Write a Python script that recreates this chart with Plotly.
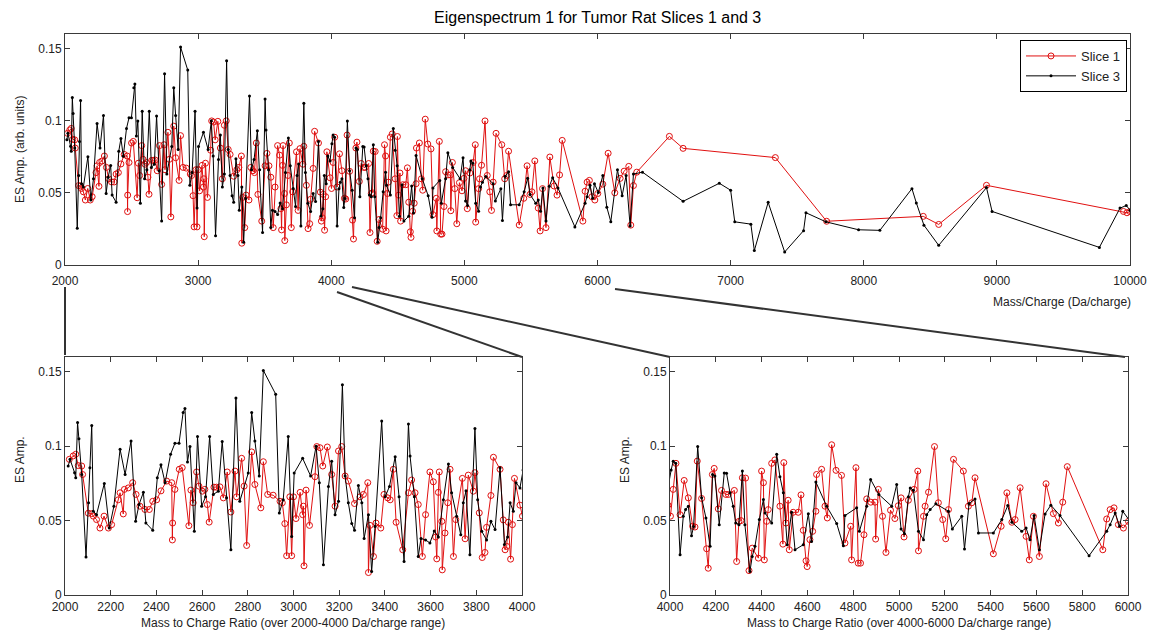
import plotly.graph_objects as go

# ---------------- data ----------------
s1_x = [2019, 2036, 2047, 2058, 2073, 2077, 2102, 2117, 2124, 2138, 2153, 2171, 2190, 2204, 2233, 2241, 2255, 2260,
        2277, 2296, 2311, 2328, 2350, 2369, 2384, 2401, 2420, 2445, 2467, 2470, 2471, 2481, 2500, 2513, 2542, 2551,
        2561, 2576, 2586, 2601, 2612, 2623, 2631, 2652, 2663, 2678, 2693, 2710, 2726, 2744, 2751, 2773, 2784, 2795,
        2817, 2831, 2857, 2868, 2887, 2911, 2941, 2951, 2962, 2970, 2984, 2992, 3000, 3011, 3029, 3040, 3043, 3046,
        3055, 3070, 3094, 3102, 3116, 3128, 3148, 3167, 3182, 3197, 3211, 3226, 3240, 3267, 3291, 3306, 3325, 3328,
        3335, 3350, 3361, 3382, 3396, 3412, 3423, 3437, 3449, 3478, 3503, 3517, 3532, 3546, 3564, 3578, 3597, 3612,
        3622, 3627, 3634, 3638, 3649, 3651, 3663, 3675, 3685, 3700, 3710, 3739, 3751, 3765, 3787, 3794, 3813, 3826,
        3838, 3845, 3864, 3875, 3904, 3918, 3926, 3933, 3940, 3950, 3958, 3967, 3991, 4002, 4014, 4026, 4044, 4062,
        4080, 4099, 4109, 4119, 4138, 4160, 4167, 4185, 4193, 4211, 4225, 4244, 4255, 4281, 4291, 4301, 4310, 4316,
        4330, 4345, 4359, 4386, 4400, 4408, 4412, 4422, 4429, 4444, 4458, 4480, 4493, 4497, 4506, 4516, 4521, 4538,
        4560, 4572, 4582, 4594, 4599, 4611, 4623, 4637, 4640, 4662, 4677, 4687, 4706, 4725, 4749, 4764, 4789, 4793,
        4812, 4822, 4832, 4847, 4859, 4877, 4895, 4898, 4910, 4928, 4943, 4963, 4982, 4997, 5009, 5022, 5041, 5066,
        5082, 5085, 5107, 5114, 5129, 5155, 5172, 5191, 5204, 5216, 5238, 5281, 5303, 5318, 5332, 5412, 5446, 5471,
        5493, 5507, 5529, 5555, 5569, 5587, 5613, 5642, 5674, 5696, 5715, 5735, 5890, 5907, 5922, 5939, 5958, 5980,
        6002, 6040, 6080, 6130, 6170, 6200, 6235, 6250, 6270, 6295, 6540, 6643, 7336, 7721, 8447, 8563, 8922, 9951,
        9977, 10000]
s1_y = [0.0912, 0.0935, 0.0946, 0.087, 0.0867, 0.081, 0.055, 0.0547, 0.053, 0.0507, 0.045, 0.053, 0.045, 0.0473,
        0.064, 0.0687, 0.0545, 0.071, 0.072, 0.0755, 0.0676, 0.0597, 0.0575, 0.0575, 0.063, 0.064, 0.070, 0.0766,
        0.0755, 0.037, 0.0484, 0.071, 0.0845, 0.0856, 0.0466, 0.0705, 0.062, 0.0827, 0.0732, 0.0698, 0.071, 0.0608,
        0.049, 0.0725, 0.0725, 0.0727, 0.0653, 0.0827, 0.0558, 0.0833, 0.066, 0.0919, 0.0732, 0.0333, 0.0962, 0.0743,
        0.0586, 0.0896, 0.0676, 0.0671, 0.063, 0.062, 0.048, 0.0264, 0.066, 0.0264, 0.066, 0.0514, 0.069, 0.054,
        0.0597, 0.0196, 0.0705, 0.0468, 0.0795, 0.0998, 0.099, 0.0867, 0.0995, 0.081, 0.0597, 0.0968, 0.0998, 0.080,
        0.0766, 0.0615, 0.066, 0.0676, 0.0755, 0.0151, 0.0468, 0.0259, 0.0484, 0.045, 0.0676, 0.0653, 0.064, 0.0845,
        0.0489, 0.0304, 0.0687, 0.0773, 0.0687, 0.0608, 0.0259, 0.054, 0.0827, 0.0761, 0.039, 0.0243, 0.069, 0.0827,
        0.0495, 0.0169, 0.0417, 0.062, 0.0845, 0.0259, 0.0507, 0.0784, 0.0378, 0.0806, 0.0698, 0.0822, 0.0552, 0.0252,
        0.0286, 0.0455, 0.0669, 0.0926, 0.0845, 0.0505, 0.0304, 0.0327, 0.0489, 0.0241, 0.0473, 0.0784, 0.0604, 0.053,
        0.071, 0.0885, 0.054, 0.077, 0.0653, 0.0462, 0.0457, 0.090, 0.0649, 0.0311, 0.018, 0.081, 0.0851, 0.0579,
        0.0703, 0.0676, 0.0676, 0.0703, 0.0225, 0.0495, 0.050, 0.0788, 0.0786, 0.0164, 0.0315, 0.0248, 0.0833, 0.0755,
        0.0236, 0.0495, 0.0574, 0.0885, 0.0908, 0.0597, 0.0342, 0.089, 0.0484, 0.0637, 0.0304, 0.0556, 0.0556, 0.0673,
        0.0435, 0.023, 0.0191, 0.0372, 0.0428, 0.0563, 0.081, 0.0845, 0.0597, 0.0518, 0.101, 0.0838, 0.0804, 0.0349,
        0.0462, 0.0236, 0.0856, 0.0214, 0.0214, 0.0405, 0.0646, 0.0624, 0.0624, 0.0376, 0.071, 0.0529, 0.0286, 0.057,
        0.0514, 0.060, 0.0653, 0.039, 0.0637, 0.071, 0.0833, 0.0297, 0.0529, 0.0597, 0.0691, 0.0998, 0.062, 0.0507,
        0.0378, 0.0574, 0.0912, 0.0833, 0.0597, 0.062, 0.0788, 0.0277, 0.0462, 0.0687, 0.0489, 0.0507, 0.0721, 0.0394,
        0.0236, 0.0529, 0.0259, 0.0748, 0.0547, 0.0484, 0.0624, 0.0863, 0.0304, 0.0511, 0.0574, 0.0586, 0.0473, 0.045,
        0.0495, 0.056, 0.0774, 0.050, 0.060, 0.065, 0.0683, 0.0276, 0.055, 0.0643, 0.0891, 0.0808, 0.0744, 0.0303,
        0.0337, 0.0281, 0.0552, 0.0371, 0.0362, 0.037]

s3_x = [2014, 2022, 2042, 2047, 2055, 2061, 2073, 2092, 2103, 2109, 2117, 2124, 2138, 2172, 2194, 2214, 2241, 2263,
        2289, 2309, 2324, 2343, 2354, 2384, 2404, 2420, 2438, 2462, 2481, 2499, 2517, 2525, 2536, 2547, 2566, 2580,
        2598, 2615, 2633, 2649, 2671, 2688, 2707, 2726, 2748, 2765, 2802, 2817, 2831, 2850, 2868, 2922, 2938, 2955,
        2977, 2992, 3003, 3040, 3075, 3099, 3113, 3131, 3153, 3167, 3182, 3197, 3214, 3226, 3240, 3255, 3267, 3284,
        3299, 3309, 3328, 3342, 3357, 3386, 3401, 3420, 3445, 3462, 3484, 3503, 3510, 3529, 3546, 3558, 3578, 3597,
        3616, 3634, 3656, 3678, 3692, 3714, 3732, 3743, 3755, 3772, 3794, 3806, 3824, 3845, 3864, 3882, 3904, 3923,
        3937, 3948, 3962, 3974, 3991, 4005, 4014, 4025, 4044, 4058, 4068, 4080, 4094, 4103, 4121, 4138, 4157, 4175,
        4186, 4196, 4215, 4237, 4247, 4262, 4276, 4287, 4301, 4316, 4327, 4349, 4359, 4371, 4390, 4408, 4415, 4444,
        4466, 4480, 4495, 4512, 4531, 4546, 4582, 4604, 4618, 4637, 4684, 4728, 4757, 4764, 4815, 4827, 4859, 4876,
        4912, 4968, 4990, 5009, 5024, 5041, 5049, 5063, 5085, 5107, 5121, 5136, 5161, 5216, 5233, 5274, 5286, 5306,
        5332, 5347, 5412, 5449, 5475, 5493, 5536, 5555, 5572, 5590, 5613, 5638, 5663, 5703, 5830, 5907, 5922, 5944,
        5963, 5977, 6006, 6040, 6070, 6100, 6150, 6185, 6215, 6245, 6270, 6338, 6643, 6915, 7000, 7031, 7152, 7178,
        7282, 7406, 7548, 7566, 7716, 7961, 8121, 8362, 8395, 8452, 8563, 8922, 8964, 9770, 9925, 9972, 10000]
s3_y = [0.0867, 0.0912, 0.0822, 0.0788, 0.116, 0.105, 0.081, 0.0255, 0.062, 0.0856, 0.114, 0.0563, 0.054, 0.075,
        0.045, 0.0597, 0.098, 0.081, 0.1036, 0.0495, 0.0608, 0.069, 0.0484, 0.0435, 0.0788, 0.0876, 0.0754, 0.0946,
        0.102, 0.102, 0.1227, 0.1254, 0.0894, 0.0998, 0.0428, 0.1065, 0.0597, 0.066, 0.1065, 0.0676, 0.0698, 0.1032,
        0.0653, 0.0304, 0.1324, 0.063, 0.082, 0.1227, 0.1036, 0.080, 0.151, 0.135, 0.0552, 0.064, 0.1065, 0.0394,
        0.082, 0.0919, 0.080, 0.100, 0.0755, 0.0203, 0.073, 0.090, 0.054, 0.063, 0.1414, 0.080, 0.062, 0.048, 0.0435,
        0.0736, 0.062, 0.038, 0.054, 0.0158, 0.046, 0.117, 0.066, 0.073, 0.093, 0.066, 0.0225, 0.115, 0.0935, 0.066,
        0.0259, 0.038, 0.037, 0.035, 0.043, 0.039, 0.064, 0.088, 0.0687, 0.053, 0.0405, 0.062, 0.070, 0.027, 0.112,
        0.064, 0.0428, 0.037, 0.0495, 0.044, 0.0856, 0.034, 0.039, 0.062, 0.0563, 0.0755, 0.072, 0.084, 0.090, 0.0885,
        0.027, 0.0529, 0.0574, 0.0597, 0.0399, 0.046, 0.0998, 0.0653, 0.0518, 0.0327, 0.081, 0.080, 0.0473, 0.082,
        0.0818, 0.0687, 0.0597, 0.0484, 0.0473, 0.0833, 0.0473, 0.0158, 0.0259, 0.0327, 0.0507, 0.0642, 0.0552, 0.0484,
        0.0946, 0.0795, 0.0687, 0.0338, 0.0556, 0.0304, 0.0338, 0.0547, 0.036, 0.0759, 0.0597, 0.048, 0.0331, 0.0534,
        0.0586, 0.0428, 0.0597, 0.0777, 0.0676, 0.0597, 0.0743, 0.0444, 0.0412, 0.066, 0.072, 0.0705, 0.0428, 0.0372,
        0.054, 0.0574, 0.0613, 0.0563, 0.0444, 0.0529, 0.0309, 0.0615, 0.0646, 0.0417, 0.0417, 0.0507, 0.0601, 0.0489,
        0.0428, 0.045, 0.0372, 0.0534, 0.0304, 0.0545, 0.0604, 0.0534, 0.0264, 0.0428, 0.0473, 0.0552, 0.0462, 0.0563,
        0.0502, 0.062, 0.040, 0.030, 0.066, 0.048, 0.062, 0.027, 0.063, 0.0643, 0.0441, 0.0566, 0.0518, 0.0299, 0.0283,
        0.010, 0.0434, 0.009, 0.0238, 0.0362, 0.0299, 0.0244, 0.024, 0.0529, 0.043, 0.0276, 0.0136, 0.0536, 0.0371,
        0.0122, 0.0394, 0.0412, 0.038]

top_ticks = [2000, 3000, 4000, 5000, 6000, 7000, 8000, 9000, 10000]
left_ticks = [2000, 2200, 2400, 2600, 2800, 3000, 3200, 3400, 3600, 3800, 4000]
right_ticks = [4000, 4200, 4400, 4600, 4800, 5000, 5200, 5400, 5600, 5800, 6000]
y_ticks = [0, 0.05, 0.1, 0.15]
y_labels = ["0", "0.05", "0.1", "0.15"]

TITLE = "Eigenspectrum 1 for Tumor Rat Slices 1 and 3"
# -----------------------------------------------------------------

W, H = 1156, 636
FONT = "Liberation Sans, Arial, sans-serif"
RED = "#e01010"
AX = "#3a3a3a"


def px(x):
    return x / W


def py(y):
    return 1 - y / H


fig = go.Figure()

axes = [("x", "y"), ("x2", "y2"), ("x3", "y3")]
for i, (xa, ya) in enumerate(axes):
    fig.add_trace(go.Scatter(
        x=s1_x, y=s1_y, xaxis=xa, yaxis=ya, mode="lines+markers", name="Slice 1",
        line=dict(color=RED, width=1),
        marker=dict(symbol="circle-open", size=6, color=RED, line=dict(width=1, color=RED)),
        showlegend=(i == 0)))
    fig.add_trace(go.Scatter(
        x=s3_x, y=s3_y, xaxis=xa, yaxis=ya, mode="lines+markers", name="Slice 3",
        line=dict(color="black", width=1),
        marker=dict(symbol="circle", size=3, color="black"),
        showlegend=(i == 0)))

common_ax = dict(showline=True, linecolor=AX, linewidth=1, mirror="allticks", ticks="inside",
                 ticklen=5, tickcolor=AX, showgrid=False, zeroline=False, automargin=False,
                 tickfont=dict(family=FONT, size=12, color="#222"))

fig.update_layout(
    template="none",
    width=W, height=H, margin=dict(l=0, r=0, t=0, b=0, pad=0, autoexpand=False),
    paper_bgcolor="white", plot_bgcolor="white",
    font=dict(family=FONT, size=12, color="#222"),
    xaxis=dict(domain=[px(65), px(1130)], range=[2000, 10000], tickvals=top_ticks, tickformat="d",
               ticklabelstandoff=5, anchor="y", **common_ax),
    yaxis=dict(domain=[py(265), py(34)], range=[0, 0.16], tickvals=y_ticks, ticktext=y_labels,
               anchor="x", **common_ax),
    xaxis2=dict(domain=[px(65), px(522)], range=[2000, 4000], tickvals=left_ticks, tickformat="d",
                ticklabelstandoff=1, anchor="y2", **common_ax),
    yaxis2=dict(domain=[py(595), py(357)], range=[0, 0.16], tickvals=y_ticks, ticktext=y_labels,
                anchor="x2", **common_ax),
    xaxis3=dict(domain=[px(670), px(1128)], range=[4000, 6000], tickvals=right_ticks, tickformat="d",
                ticklabelstandoff=1, anchor="y3", **common_ax),
    yaxis3=dict(domain=[py(595), py(357)], range=[0, 0.16], tickvals=y_ticks, ticktext=y_labels,
                anchor="x3", **common_ax),
    legend=dict(x=px(1127), y=py(40), xanchor="right", yanchor="top",
                bordercolor="black", borderwidth=1, bgcolor="white", itemwidth=50,
                font=dict(family=FONT, size=13, color="#222"), tracegroupgap=0),
    showlegend=True,
)

ann = [
    dict(text=TITLE, x=px(597), y=py(18), font=dict(size=16, color="black")),
    dict(text="ES Amp. (arb. units)", x=px(20), y=py(150), textangle=-90, font=dict(size=12)),
    dict(text="Mass/Charge (Da/charge)", x=px(1133), y=py(302), xanchor="right", font=dict(size=12)),
    dict(text="ES Amp.", x=px(20), y=py(460), textangle=-90, font=dict(size=12)),
    dict(text="ES Amp.", x=px(625), y=py(460), textangle=-90, font=dict(size=12)),
    dict(text="Mass to Charge Ratio (over 2000-4000 Da/charge range)", x=px(293), y=py(623), font=dict(size=12)),
    dict(text="Mass to Charge Ratio (over 4000-6000 Da/charge range)", x=px(899), y=py(623), font=dict(size=12)),
]
for a in ann:
    a.setdefault("xanchor", "center")
    fig.add_annotation(xref="paper", yref="paper", showarrow=False, yanchor="middle",
                       font_family=FONT, **a)

# zoom connector lines
connectors = [((65, 287), (65, 355)), ((337, 292), (522, 357)), ((352, 287), (670, 357)), ((615, 289), (1125, 357))]
for (x0, y0), (x1, y1) in connectors:
    fig.add_shape(type="line", xref="paper", yref="paper", x0=px(x0), y0=py(y0), x1=px(x1), y1=py(y1),
                  line=dict(color="#333", width=2))

fig.write_html("out.html", config={"displayModeBar": False},
               post_script="document.body.style.margin='0';document.body.style.padding='0';"
                           "document.body.style.overflow='hidden';")
